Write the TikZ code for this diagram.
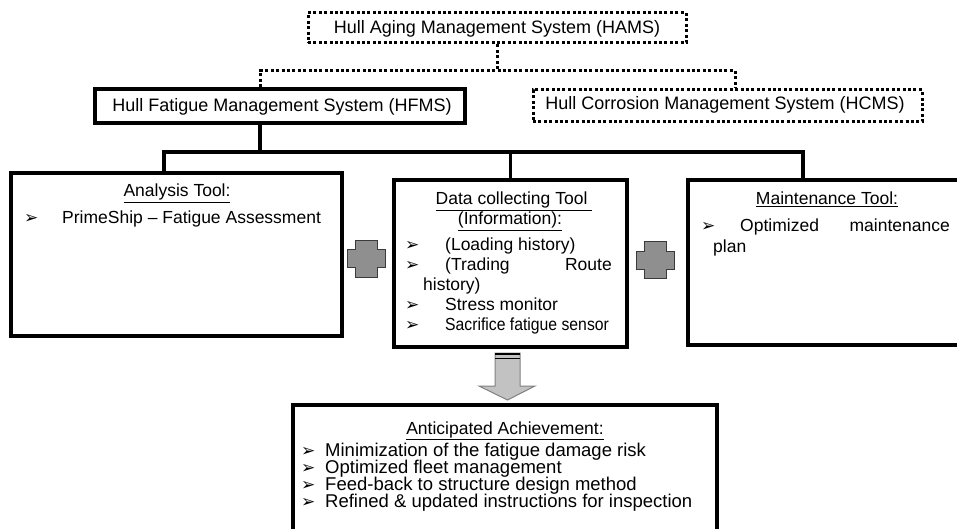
\documentclass[tikz,border=0pt]{standalone}
\usepackage{graphicx}
\usepackage{fontspec}
\setmainfont{Liberation Sans}
\newfontfamily\dvsans{DejaVu Sans}
\definecolor{crossgray}{HTML}{8F8F8F}
\definecolor{crossedge}{HTML}{3A3A3A}
\definecolor{arrowgray}{HTML}{C2C2C2}
\definecolor{arrowedge}{HTML}{808080}
\begin{document}
\begin{tikzpicture}[x=1pt,y=-1pt,
  solidbox/.style={draw=black, line width=3.4pt, rectangle, inner sep=0pt},
  dotbox/.style={draw=black, line width=3pt, dash pattern=on 3pt off 2.4pt, rectangle, inner sep=0pt},
  tree/.style={line width=3.8pt},
  dottree/.style={line width=3pt, dash pattern=on 3pt off 2.4pt},
  big/.style={anchor=base, font=\fontsize{18}{20}\selectfont, inner sep=0pt},
  hdr/.style={anchor=base, font=\fontsize{17.5}{20}\selectfont, inner sep=0pt},
  txt/.style={anchor=base west, font=\fontsize{17.5}{20}\selectfont, inner sep=0pt},
  txtb/.style={anchor=base west, font=\fontsize{18.5}{20}\selectfont, inner sep=0pt},
  bul/.style={anchor=base west, font=\dvsans\bfseries\fontsize{17}{17}\selectfont, inner sep=0pt},
  crossstyle/.style={fill=crossgray, draw=crossedge, line width=1pt},
  blockarrow/.style={fill=arrowgray, draw=arrowedge, line width=1pt},
  pluscross/.pic={\draw[crossstyle] (-19,-9) -- (-11,-9) -- (-11,-18.5) -- (11,-18.5) -- (11,-9) -- (19,-9) -- (19,9) -- (11,9) -- (11,18.5) -- (-11,18.5) -- (-11,9) -- (-19,9) -- cycle;}
]
\useasboundingbox (0,0) rectangle (957,529);
\clip (0,0) rectangle (957,529);

% boxes
\node[dotbox, minimum width=378pt, minimum height=30pt] (hams) at (497,28) {};
\node[solidbox, minimum width=370pt, minimum height=34pt] (hfms) at (280,106) {};
\node[dotbox, minimum width=389pt, minimum height=32pt] (hcms) at (727.5,106) {};
\node[solidbox, minimum width=331pt, minimum height=163pt] (ana) at (176.5,254.5) {};
\node[solidbox, minimum width=233pt, minimum height=167pt] (dat) at (510.5,263.5) {};
\node[solidbox, minimum width=278pt, minimum height=165pt] (mnt) at (827,262.5) {};
\node[solidbox, minimum width=424pt, minimum height=155pt] (ach) at (505,482.5) {};

% dotted connectors
\coordinate (dj) at (497,71);
\coordinate (dl) at (260,71);
\coordinate (dr) at (735,71);
\draw[dottree] (hams.south) -- (dj);
\draw[dottree] (dl |- hfms.north) -- (dl) -- (dr) -- (dr |- hcms.north);

% solid tree
\coordinate (sh) at (260,152);
\coordinate (sl) at (164,152);
\coordinate (sr) at (803,152);
\draw[tree] (sh |- hfms.south) -- (sh);
\draw[tree] (sl |- ana.north) -- (sl) -- (sr) -- (sr |- mnt.north);
\draw[tree] (dat.north) -- (dat.north |- sl);

% top texts
\node[big] (hamst) at (497,34) {Hull Aging Management System (HAMS)};
\node[big] (hfmst) at (282,112) {Hull Fatigue Management System (HFMS)};
\node[big] (hcmst) at (725,110) {Hull Corrosion Management System (HCMS)};

% analysis tool
\node[hdr] (anat) at (177,197) {\underline{Analysis Tool:}};
\node[bul] (anab) at (24,224) {➢};
\node[txt] (anai) at (62,224) {PrimeShip – Fatigue Assessment};

% data collecting tool
\node[hdr] (datt1) at (514,205) {\underline{Data collecting Tool\ }};
\node[hdr] (datt2) at (510,225) {\underline{(Information):}};
\node[bul] (datb1) at (405,250) {➢};
\node[txt] (dati1) at (445,250) {(Loading history)};
\node[bul] (datb2) at (405,270) {➢};
\node[txt] (dati2a) at (445,270) {(Trading};
\node[txt, anchor=base east] (dati2b) at (612,270) {Route};
\node[txt] (dati2c) at (423,290) {history)};
\node[bul] (datb3) at (405,310) {➢};
\node[txt] (dati3) at (445,310) {Stress monitor};
\node[bul] (datb4) at (405,330) {➢};
\node[txt] (dati4) at (445,330) {\scalebox{0.9}[1]{Sacrifice fatigue sensor}};

% maintenance tool
\node[hdr] (mntt) at (827,205) {\underline{Maintenance Tool:}};
\node[bul] (mntb) at (701,232) {➢};
\node[txt] (mnti1) at (740,232) {Optimized};
\node[txt, anchor=base east] (mnti2) at (950,232) {maintenance};
\node[txt] (mnti3) at (713,252) {plan};

% crosses
\pic at (366,258.5) {pluscross};
\pic at (655,260) {pluscross};

% block arrow
\draw[blockarrow] (495,353) -- (520,353) -- (520,386) -- (535,386) -- (507.5,400) -- (479,386) -- (495,386) -- cycle;
\draw[line width=2pt] (495,354) -- (520,354);
\draw[line width=1pt] (495,358.5) -- (520,358.5);

% anticipated achievement
\node[hdr] (acht) at (505,434) {\underline{Anticipated Achievement:}};
\node[bul] (achb1) at (301,456) {➢};
\node[txtb] (achi1) at (325,456) {Minimization of the fatigue damage risk};
\node[bul] (achb2) at (301,473) {➢};
\node[txtb] (achi2) at (325,473) {Optimized fleet management};
\node[bul] (achb3) at (301,490) {➢};
\node[txtb] (achi3) at (325,490) {Feed-back to structure design method};
\node[bul] (achb4) at (301,507) {➢};
\node[txtb] (achi4) at (325,507) {Refined \& updated instructions for inspection};
\end{tikzpicture}
\end{document}
